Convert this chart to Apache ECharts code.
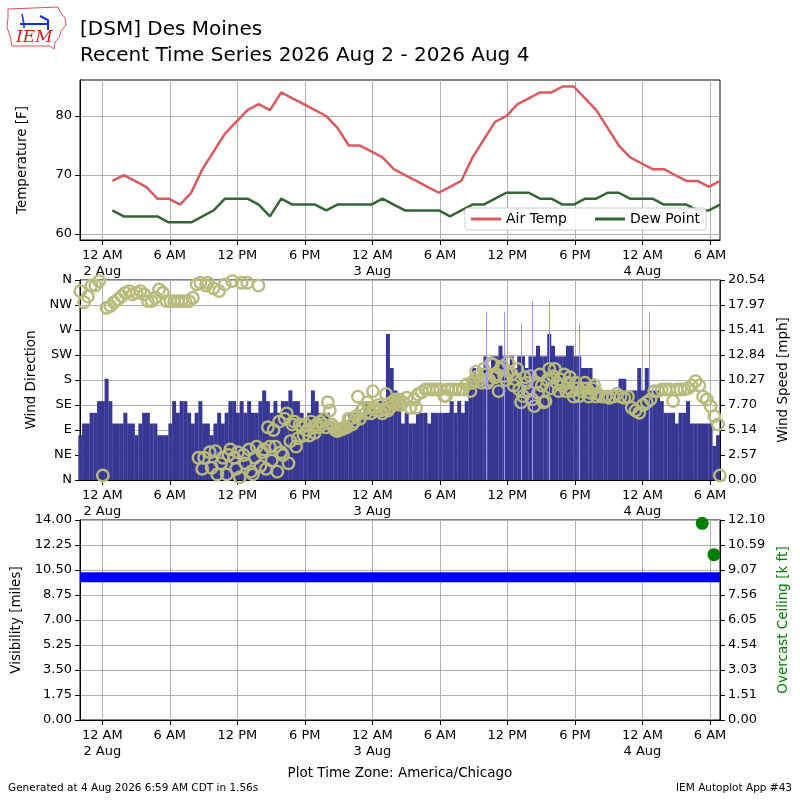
<!DOCTYPE html>
<html>
<head>
<meta charset="utf-8">
<title>DSM Recent Time Series</title>
<script src="https://cdn.jsdelivr.net/npm/echarts@6/dist/echarts.min.js"></script>
<style>
  html, body { margin: 0; padding: 0; background: #fff; }
  #main { width: 800px; height: 800px; }
</style>
</head>
<body>
<div id="main"></div>
<script>
// x positions are hours since 2 Aug 00:00 (America/Chicago)
var tickHours = [0, 6, 12, 18, 24, 30, 36, 42, 48, 54];
var tickLabels = ['12 AM\n2 Aug', '6 AM', '12 PM', '6 PM', '12 AM\n3 Aug', '6 AM', '12 PM', '6 PM', '12 AM\n4 Aug', '6 AM'];
var dirLabels = ['N', 'NE', 'E', 'SE', 'S', 'SW', 'W', 'NW', 'N'];
var speedLabels = ['0.00', '2.57', '5.14', '7.70', '10.27', '12.84', '15.41', '17.97', '20.54'];
var ceilLabels = ['0.00', '1.51', '3.03', '4.54', '6.05', '7.56', '9.07', '10.59', '12.10'];

// hourly obs at :54, first one 00:54 2 Aug
var obsStart = 0.9;
var airTemp = [69, 70, 69, 68, 66, 66, 65, 67, 71, 74, 77, 79, 81, 82, 81, 84, 83, 82, 81, 80, 78, 75, 75, 74,
               73, 71, 70, 69, 68, 67, 68, 69, 73, 76, 79, 80, 82, 83, 84, 84, 85, 85, 83, 81, 78, 75, 73, 72,
               71, 71, 70, 69, 69, 68, 69];
var dewPoint = [64, 63, 63, 63, 63, 62, 62, 62, 63, 64, 66, 66, 66, 65, 63, 66, 65, 65, 65, 64, 65, 65, 65, 65,
                66, 65, 64, 64, 64, 64, 63, 64, 65, 65, 66, 67, 67, 67, 66, 66, 65, 65, 66, 66, 67, 67, 66, 66,
                66, 65, 65, 65, 64, 64, 65];

// wind sampled every 20 minutes from 1 Aug ~22:03
var windStart = -1.95;
var windSpeed = [4.6, 5.8, 5.8, 6.9, 6.9, 8.1, 8.1, 10.4, 8.1, 5.8,
                 5.8, 5.8, 6.9, 5.8, 5.8, 4.6, 5.8, 6.9, 6.9, 5.8,
                 5.8, 4.6, 4.6, 4.6, 5.8, 8.1, 6.9, 8.1, 8.1, 6.9,
                 5.8, 6.9, 8.1, 5.8, 5.8, 4.6, 5.8, 6.9, 5.8, 6.9,
                 8.1, 8.1, 6.9, 8.1, 6.9, 8.1, 6.9, 6.9, 8.1, 9.2,
                 8.1, 6.9, 8.1, 6.9, 8.1, 8.1, 9.2, 8.1, 8.1, 6.9,
                 5.8, 6.9, 9.2, 8.1, 6.9, 6.9, 6.9, 5.8, 5.8, 4.6,
                 5.8, 5.8, 6.9, 6.9, 5.8, 6.9, 8.1, 6.9, 8.1, 6.9,
                 8.1, 8.1, 15.0, 11.5, 9.2, 8.1, 5.8, 6.9, 5.8, 5.8,
                 6.9, 6.9, 6.9, 5.8, 6.9, 6.9, 6.9, 6.9, 6.9, 8.1,
                 6.9, 8.1, 6.9, 8.1, 10.4, 11.5, 10.4, 11.5, 12.7, 11.5,
                 12.7, 12.7, 13.8, 12.7, 11.5, 12.7, 11.5, 12.7, 12.7, 11.5,
                 12.7, 12.7, 13.8, 12.7, 12.7, 15.0, 13.8, 12.7, 12.7, 12.7,
                 13.8, 13.8, 12.7, 12.7, 11.5, 11.5, 11.5, 10.4, 9.2, 9.2,
                 9.2, 9.2, 9.2, 9.2, 10.4, 10.4, 9.2, 9.2, 9.2, 11.5,
                 9.2, 11.5, 9.2, 9.2, 9.2, 8.1, 6.9, 6.9, 6.9, 5.8,
                 6.9, 6.9, 8.1, 5.8, 5.8, 5.8, 5.8, 5.8, 5.8, 3.5,
                 4.6];
var windDir = [340, 320, 330, 350, 350, 358, 8, 310, 313, 320,
               325, 331, 337, 340, 334, 337, 340, 334, 322, 322,
               328, 343, 337, 322, 322, 322, 322, 322, 322, 322,
               328, 352, 355, 40, 355, 22, 52, 340, 40, 10,
               55, 40, 50, 355, 30, 55, 10, 60, 25, 55,
               95, 35, 60, 105, 45, 120, 70, 105, 75, 95,
               100, 80, 95, 100, 105, 110, 140, 100, 90, 90,
               92, 95, 110, 105, 150, 125, 120, 130, 160, 125,
               125, 128, 125, 140, 145, 145, 140, 148, 130, 145,
               154, 158, 163, 163, 163, 163, 163, 151, 163, 163,
               163, 163, 163, 172, 160, 180, 187, 175, 190, 180,
               208, 190, 200, 187, 211, 190, 181, 163, 151, 175,
               187, 133, 157, 170, 142, 200, 187, 175, 181, 190,
               175, 160, 175, 151, 165, 165, 157, 170, 155, 150,
               150, 148, 150, 155, 150, 148, 150, 130, 125, 121,
               135, 140, 145, 160, 160, 163, 163, 163, 142, 163,
               163, 163, 165, 170, 178, 170, 150, 145, 133, 115,
               100];
// second reading 10 minutes later, from step 30 on (null = same as first)
var dirBStart = 30;
var windDirB = [null, 40, 20, 350, 50, 345, 10, 30, 352, 45,
                358, 20, 5, 45, 355, 15, 40, 350, 50, 20,
                60, 90, 15, 50, 110, 30, 100, 60, 100, 80,
                90, 105, 85, 95, 100, 95, 125, 95, 88, 92,
                95, 110, 100, 115, 110, 130, 140, 120, 130, 135,
                120, 155, 130, 135, 140, 135,
                null, null, null, 130, null, null, null, null, null, null,
                null, 151, null, null, null, null, null, null,
                175, 195, 180, 200, 175, 210, 185, 160, 205, 180,
                195, 170, 200, 140, 185, 160, 145, 175, 190, 140,
                180, 165, 200, 160, 170, 160, 185, 150, 165, 160,
                175, 150, 165, 150,
                null, null, null, null, null, null, null, null, null, null,
                null, null, null, null, null, null, null, null, null, null,
                null, null, null, null, null, null, null, null, null, null,
                null, null,
                8];

// gusts
var gustHours = [34.13, 35.69, 37.24, 38.2, 39.73, 42.36, 48.58];
var gustSpeed = [17.3, 17.3, 16.1, 18.4, 18.4, 16.1, 17.3];

// visibility and overcast ceiling
var visHours = [-1.98, 54.89];
var visMiles = [10, 10];
var ceilHours = [53.31, 54.35];
var ceilKft = [11.9, 10.0];

var xMin = -1.98, xMax = 54.89;
var font = 'DejaVu Sans';

var tempData = airTemp.map(function (v, i) { return [obsStart + i, v]; });
var dewData = dewPoint.map(function (v, i) { return [obsStart + i, v]; });
var speedData = windSpeed.map(function (v, i) { return [windStart + i / 3, v]; });
var dirData = windDir.map(function (v, i) { return [windStart + i / 3, v]; });
var dirBData = [];
windDirB.forEach(function (v, j) {
  if (v !== null) dirBData.push([windStart + (dirBStart + j) / 3 + 1 / 6, v]);
});
var gustLines = gustHours.map(function (h, i) {
  return [{ coord: [h, 0] }, { coord: [h, gustSpeed[i]] }];
});
var visData = visHours.map(function (h, i) { return [h, visMiles[i]]; });
var ceilData = ceilHours.map(function (h, i) { return [h, ceilKft[i]]; });

function xAxisFor(g) {
  return {
    type: 'value', gridIndex: g, min: xMin, max: xMax,
    axisLine: { show: true, onZero: false, lineStyle: { color: '#000' } },
    axisTick: { show: true, inside: false, length: 5, lineStyle: { color: '#000' }, customValues: tickHours },
    axisLabel: {
      customValues: tickHours, margin: 8, color: '#000', fontFamily: font, fontSize: 13, lineHeight: 16,
      formatter: function (v) {
        var k = tickHours.indexOf(Math.round(v));
        return k >= 0 ? tickLabels[k] : '';
      }
    },
    splitLine: { show: true, lineStyle: { color: '#b0b0b0', width: 1 } }
  };
}

function yBase(g, pos) {
  return {
    type: 'value', gridIndex: g, position: pos,
    axisLine: { show: true, onZero: false, lineStyle: { color: '#000' } },
    axisTick: { show: true, inside: false, length: 5, lineStyle: { color: '#000' } },
    axisLabel: { margin: 8, color: '#000', fontFamily: font, fontSize: 13 },
    splitLine: { show: true, lineStyle: { color: '#b0b0b0', width: 1 } },
    nameLocation: 'middle',
    nameTextStyle: { color: '#000', fontFamily: font, fontSize: 13.5 }
  };
}

var yTemp = yBase(0, 'left');
yTemp.min = 59; yTemp.max = 86.1;
yTemp.axisTick.customValues = [60, 70, 80];
yTemp.axisLabel.customValues = [60, 70, 80];
yTemp.name = 'Temperature [F]'; yTemp.nameGap = 51;

var yDir = yBase(1, 'left');
yDir.min = 0; yDir.max = 360; yDir.interval = 45;
yDir.axisLabel.formatter = function (v) { return dirLabels[Math.round(v / 45)]; };
yDir.name = 'Wind Direction'; yDir.nameGap = 41;

var ySpd = yBase(1, 'right');
ySpd.min = 0; ySpd.max = 20.54; ySpd.interval = 2.5675;
ySpd.splitLine = { show: false };
ySpd.axisLabel.formatter = function (v) { return speedLabels[Math.round(v / 2.5675)]; };
ySpd.name = 'Wind Speed [mph]'; ySpd.nameGap = 56;

var yVis = yBase(2, 'left');
yVis.min = 0; yVis.max = 14; yVis.interval = 1.75;
yVis.axisLabel.formatter = function (v) { return v.toFixed(2); };
yVis.name = 'Visibility [miles]'; yVis.nameGap = 55;

var yCeil = yBase(2, 'right');
yCeil.min = 0; yCeil.max = 12.1; yCeil.interval = 1.5125;
yCeil.splitLine = { show: false };
yCeil.axisLabel.formatter = function (v) { return ceilLabels[Math.round(v / 1.5125)]; };
yCeil.name = 'Overcast Ceiling [k ft]'; yCeil.nameGap = 56;
yCeil.nameTextStyle = { color: '#008000', fontFamily: font, fontSize: 13.5 };

var myChart = echarts.init(document.getElementById('main'));
var option = {
  backgroundColor: '#fff',
  animation: false,
  title: {
    text: '[DSM] Des Moines\nRecent Time Series 2026 Aug 2 - 2026 Aug 4',
    left: 80, top: 17, padding: 0,
    textStyle: { fontFamily: font, fontSize: 20, lineHeight: 26, fontWeight: 'normal', color: '#000' }
  },
  legend: {
    data: ['Air Temp', 'Dew Point'],
    left: 465, top: 208, padding: [4, 6],
    icon: 'rect', itemWidth: 30, itemHeight: 3, itemGap: 28,
    backgroundColor: 'rgba(255,255,255,0.85)', borderColor: '#cccccc', borderWidth: 1, borderRadius: 3,
    textStyle: { fontFamily: font, fontSize: 14, color: '#000' }
  },
  grid: [
    { left: 80, right: 80, top: 80, height: 160, show: true, borderColor: '#000', borderWidth: 1 },
    { left: 80, right: 80, top: 280, height: 200, show: true, borderColor: '#000', borderWidth: 1 },
    { left: 80, right: 80, top: 520, height: 200, show: true, borderColor: '#000', borderWidth: 1 }
  ],
  xAxis: [xAxisFor(0), xAxisFor(1), xAxisFor(2)],
  yAxis: [yTemp, yDir, ySpd, yVis, yCeil],
  graphic: [
    // IEM logo
    { type: 'polygon', shape: { points: [[8, 9], [58, 7], [60, 12], [65, 18], [66, 25], [61, 31], [59, 38], [55, 42], [54, 49], [50, 46], [12, 46], [10, 36], [7, 27], [8, 18]] },
      style: { fill: 'none', stroke: '#e05050', lineWidth: 1 } },
    { type: 'polyline', shape: { points: [[20, 24], [48, 24]] }, style: { stroke: '#1a2fd0', lineWidth: 2 } },
    { type: 'polyline', shape: { points: [[22, 14], [24, 24], [24, 28]] }, style: { stroke: '#1a2fd0', lineWidth: 1.5 } },
    { type: 'polyline', shape: { points: [[40, 16], [48, 20], [48, 30]] }, style: { stroke: '#1a2fd0', lineWidth: 2 } },
    { type: 'text', left: 16, top: 29, style: { text: 'IEM', font: 'italic 17px "DejaVu Serif"', fill: '#d42020' } },
    // footer
    { type: 'text', left: 'center', top: 766, style: { text: 'Plot Time Zone: America/Chicago', font: '13.5px "DejaVu Sans"', fill: '#000' } },
    { type: 'text', left: 8, top: 783, style: { text: 'Generated at 4 Aug 2026 6:59 AM CDT in 1.56s', font: '10.5px "DejaVu Sans"', fill: '#000' } },
    { type: 'text', right: 8, top: 783, style: { text: 'IEM Autoplot App #43', font: '10.5px "DejaVu Sans"', fill: '#000' } }
  ],
  series: [
    { name: 'Air Temp', type: 'line', xAxisIndex: 0, yAxisIndex: 0, data: tempData, showSymbol: false,
      color: '#dc5a5e', lineStyle: { width: 2.5, color: '#dc5a5e' }, z: 3 },
    { name: 'Dew Point', type: 'line', xAxisIndex: 0, yAxisIndex: 0, data: dewData, showSymbol: false,
      color: '#336633', lineStyle: { width: 2.5, color: '#336633' }, z: 3 },
    { name: 'Wind Gust', type: 'scatter', xAxisIndex: 1, yAxisIndex: 2, symbolSize: 0, z: 1,
      data: gustHours.map(function (h, i) { return [h, gustSpeed[i]]; }),
      markLine: { silent: true, symbol: 'none', label: { show: false }, lineStyle: { color: '#9999ff', width: 1, type: 'solid' }, data: gustLines } },
    { name: 'Wind Speed', type: 'bar', xAxisIndex: 1, yAxisIndex: 2, data: speedData, barWidth: 4,
      itemStyle: { color: '#383894' }, z: 2 },
    { name: 'Wind Direction', type: 'scatter', xAxisIndex: 1, yAxisIndex: 1, data: dirData, symbolSize: 11.5,
      itemStyle: { color: 'rgba(0,0,0,0)', borderColor: '#b9bb7d', borderWidth: 2.4, opacity: 1 }, z: 4 },
    { name: 'Wind Direction 2', type: 'scatter', xAxisIndex: 1, yAxisIndex: 1, data: dirBData, symbolSize: 11.5,
      itemStyle: { color: 'rgba(0,0,0,0)', borderColor: '#b9bb7d', borderWidth: 2.4, opacity: 1 }, z: 4 },
    { name: 'Visibility', type: 'line', xAxisIndex: 2, yAxisIndex: 3, data: visData, showSymbol: false,
      lineStyle: { width: 10, color: '#0000ff' }, z: 3 },
    { name: 'Overcast Ceiling', type: 'scatter', xAxisIndex: 2, yAxisIndex: 4, data: ceilData, symbolSize: 13,
      itemStyle: { color: '#008000', opacity: 1 }, clip: false, z: 4 }
  ]
};
myChart.setOption(option);
</script>
</body>
</html>
